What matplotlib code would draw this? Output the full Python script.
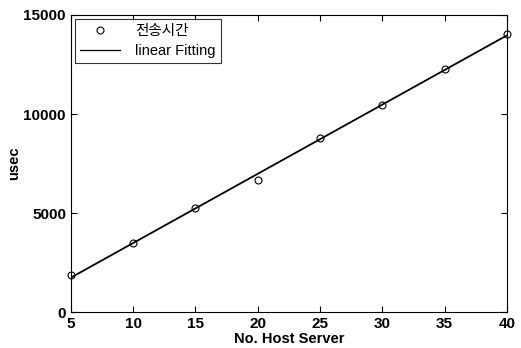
import numpy as np
import matplotlib.pyplot as plt

plt.rcParams['font.family'] = ['Liberation Sans', 'Noto Sans CJK KR', 'DejaVu Sans']

# number of host servers vs transfer time
hosts = [5, 10, 15, 20, 25, 30, 35, 40]
usec = [1860, 3500, 5270, 6670, 8790, 10460, 12270, 14030]

coef = np.polyfit(hosts, usec, 1)
fit = np.polyval(coef, hosts)

fig = plt.figure(figsize=(5.21, 3.48), dpi=100)
ax = fig.add_axes([0.136, 0.103, 0.837, 0.854])

ax.plot(hosts, usec, 'o', mfc='none', mec='black', ms=5, mew=0.8,
        clip_on=False, zorder=3, label='전송시간')
ax.plot(hosts, fit, '-', color='black', lw=1.3, label='linear Fitting')

ax.set_xlim(5, 40)
ax.set_ylim(0, 15000)
ax.set_xticks(hosts)
ax.set_yticks([0, 5000, 10000, 15000])
ax.tick_params(direction='in', top=True, right=True, length=4, labelsize=11)
for lab in ax.get_xticklabels() + ax.get_yticklabels():
    lab.set_fontweight('bold')
ax.set_xlabel('No. Host Server', fontsize=10.5, fontweight='bold', labelpad=1)
ax.set_ylabel('usec', fontsize=10.5, fontweight='bold', labelpad=2)

leg = ax.legend(loc='upper left', fontsize=10.5, fancybox=False, edgecolor='black',
                borderaxespad=0.25, handlelength=2.8, labelspacing=0.45,
                borderpad=0.35, handletextpad=1.0)
leg.get_frame().set_linewidth(0.8)
leg.get_lines()[1].set_linewidth(0.9)

fig.savefig('out.png', dpi=100)
